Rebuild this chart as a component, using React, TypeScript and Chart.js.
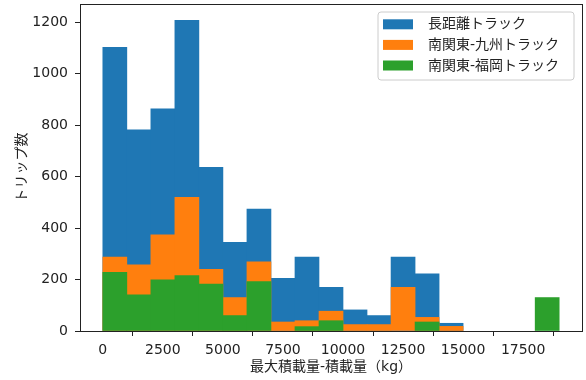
import { useEffect, useRef } from 'react';
import { Chart, registerables } from 'chart.js';

Chart.register(...registerables);

// Histogram bins (start of each 1000 kg bin)
const binStarts = [0, 1000, 2000, 3000, 4000, 5000, 6000, 7000, 8000, 9000, 10000, 11000, 12000, 13000, 14000, 15000, 16000, 17000, 18000];
const binWidth = 1000;
const longHaul = [1103, 782, 864, 1208, 636, 345, 474, 205, 287, 170, 82, 60, 287, 222, 30, 0, 0, 0, 0];
const kantoKyushu = [287, 257, 374, 520, 240, 130, 269, 35, 40, 77, 25, 25, 170, 53, 18, 0, 0, 0, 0];
const kantoFukuoka = [228, 141, 199, 215, 182, 60, 192, 0, 17, 40, 0, 0, 0, 35, 0, 0, 0, 0, 130];
const seriesNames = ['長距離トラック', '南関東-九州トラック', '南関東-福岡トラック'];
const seriesColors = ['#1f77b4', '#ff7f0e', '#2ca02c'];
const xTicks = [0, 2500, 5000, 7500, 10000, 12500, 15000, 17500];
const yTicks = [0, 200, 400, 600, 800, 1000, 1200];
const xTitle = '最大積載量-積載量（kg）';
const yTitle = 'トリップ数';

const FONT = "'DejaVu Sans', 'Noto Sans CJK JP', sans-serif";
const INK = '#222222';

const toPoints = (vals: number[]) =>
  vals.map((v, i) => ({ x: binStarts[i] + binWidth / 2, y: v === 0 ? null : v }));

const zeroPad = (s: any) => {
  s.paddingTop = 0;
  s.paddingBottom = 0;
  s.paddingLeft = 0;
  s.paddingRight = 0;
};

const framePlugin = {
  id: 'frameAndLegend',
  afterDraw(chart: any) {
    const { ctx, chartArea } = chart;
    const { left, top, right, bottom } = chartArea;
    ctx.save();
    ctx.strokeStyle = INK;
    ctx.lineWidth = 1;
    ctx.strokeRect(left + 0.5, top + 0.5, right - left, bottom - top);

    // legend box
    const bx = 378, by = 12, bw = 196, bh = 68, r = 3;
    ctx.beginPath();
    ctx.moveTo(bx + r, by);
    ctx.lineTo(bx + bw - r, by);
    ctx.quadraticCurveTo(bx + bw, by, bx + bw, by + r);
    ctx.lineTo(bx + bw, by + bh - r);
    ctx.quadraticCurveTo(bx + bw, by + bh, bx + bw - r, by + bh);
    ctx.lineTo(bx + r, by + bh);
    ctx.quadraticCurveTo(bx, by + bh, bx, by + bh - r);
    ctx.lineTo(bx, by + r);
    ctx.quadraticCurveTo(bx, by, bx + r, by);
    ctx.closePath();
    ctx.fillStyle = 'rgba(255,255,255,0.8)';
    ctx.fill();
    ctx.strokeStyle = '#cccccc';
    ctx.stroke();

    ctx.font = `14px ${FONT}`;
    ctx.textBaseline = 'middle';
    ctx.textAlign = 'left';
    seriesNames.forEach((name, i) => {
      const cy = 24.3 + i * 20.6;
      ctx.fillStyle = seriesColors[i];
      ctx.fillRect(383, cy - 5, 30, 10);
      ctx.fillStyle = INK;
      ctx.fillText(name, 428, cy + 0.5);
    });
    ctx.restore();
  },
};

export default function App() {
  const ref = useRef<HTMLCanvasElement | null>(null);

  useEffect(() => {
    if (!ref.current) return;
    const datasets = [longHaul, kantoKyushu, kantoFukuoka].map((vals, i) => ({
      label: seriesNames[i],
      data: toPoints(vals),
      backgroundColor: seriesColors[i],
      borderWidth: 0,
      grouped: false,
      barPercentage: 1,
      categoryPercentage: 1,
      order: 3 - i,
    }));
    const chart = new Chart(ref.current, {
      type: 'bar',
      data: { datasets },
      options: {
        responsive: false,
        animation: false,
        devicePixelRatio: 1,
        layout: { padding: { left: 0, top: 4, right: 4, bottom: 0 } },
        plugins: { legend: { display: false }, tooltip: { enabled: false } },
        scales: {
          x: {
            type: 'linear',
            min: -950,
            max: 19950,
            offset: false,
            afterFit: (s: any) => { s.height = 49; zeroPad(s); },
            afterBuildTicks: (s: any) => { s.ticks = xTicks.map((v) => ({ value: v })); },
            grid: { display: true, drawOnChartArea: false, drawTicks: true, tickLength: 5, color: INK },
            border: { display: false },
            ticks: { color: INK, font: { family: FONT, size: 14 }, padding: 6, maxRotation: 0, autoSkip: false, callback: (v: any) => String(v) },
            title: { display: true, text: xTitle, color: INK, font: { family: FONT, size: 14 }, padding: { top: 0, bottom: 4 } },
          },
          y: {
            type: 'linear',
            min: 0,
            max: 1271,
            afterFit: (s: any) => { s.width = 80; zeroPad(s); },
            afterBuildTicks: (s: any) => { s.ticks = yTicks.map((v) => ({ value: v })); },
            grid: { display: true, drawOnChartArea: false, drawTicks: true, tickLength: 5, color: INK },
            border: { display: false },
            ticks: { color: INK, font: { family: FONT, size: 14 }, padding: 7, autoSkip: false, callback: (v: any) => String(v) },
            title: { display: true, text: yTitle, color: INK, font: { family: FONT, size: 14 }, padding: { top: 14, bottom: 0 } },
          },
        },
      },
      plugins: [framePlugin],
    });
    return () => chart.destroy();
  }, []);

  return (
    <div style={{ position: 'absolute', left: 0, top: 0, width: 586, height: 380, background: '#fff' }}>
      <canvas ref={ref} width={586} height={380} />
    </div>
  );
}
